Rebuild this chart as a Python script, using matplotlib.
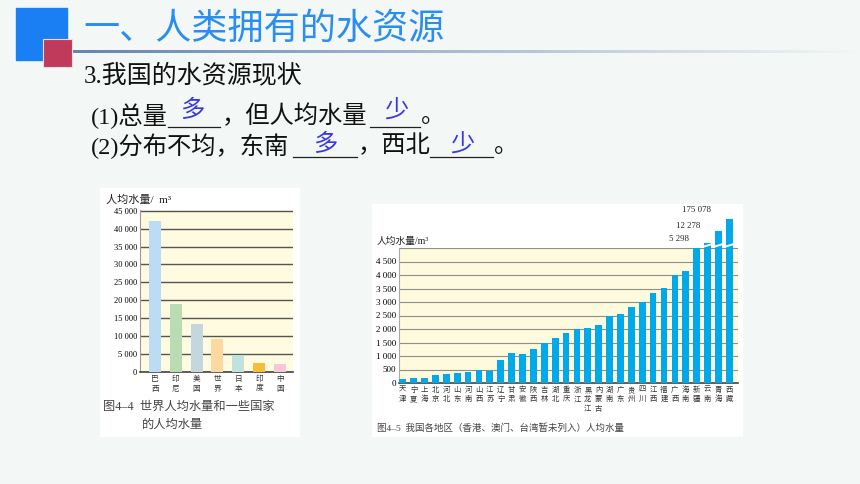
import numpy as np
import matplotlib
matplotlib.use('Agg')
import matplotlib.pyplot as plt
from matplotlib.patches import Rectangle

# ---- data ----
world_names = ['巴西', '印尼', '美国', '世界', '日本', '印度', '中国']
world_values = [42200, 18900, 13400, 9250, 4650, 2520, 2340]
world_colors = ['#bcdcf4', '#b9dcb2', '#c6d6df', '#fdd9a2', '#bfe2da', '#f6bd3c', '#f9c7d9']
world_ticks = [0, 5000, 10000, 15000, 20000, 25000, 30000, 35000, 40000, 45000]

prov_names = ['天津', '宁夏', '上海', '北京', '河北', '山东', '河南', '山西', '江苏', '辽宁',
              '甘肃', '安徽', '陕西', '吉林', '湖北', '重庆', '浙江', '黑龙江', '内蒙古', '湖南',
              '广东', '贵州', '四川', '江西', '福建', '广西', '海南', '新疆', '云南', '青海', '西藏']
prov_values = [150, 200, 200, 300, 350, 380, 420, 470, 450, 860,
               1100, 1080, 1250, 1480, 1650, 1850, 2000, 2050, 2160, 2500,
               2550, 2800, 3000, 3350, 3520, 4000, 4150, 5000, 5298, 12278, 175078]
prov_ticks = [0, 500, 1000, 1500, 2000, 2500, 3000, 3500, 4000, 4500]

W, H = 860, 484
SERIF = ['Liberation Serif', 'Noto Sans CJK SC']
CJK = ['Noto Sans CJK SC', 'DejaVu Sans']

def box(x0, y0, x1, y1):
    return [x0 / W, 1 - y1 / H, (x1 - x0) / W, (y1 - y0) / H]

def spaced(v):
    return f'{v:,}'.replace(',', ' ')

fig = plt.figure(figsize=(8.6, 4.84), dpi=100)
fig.patch.set_facecolor('#f3f7f5')

bg = fig.add_axes([0, 0, 1, 1])
bg.axis('off')

# header decoration
bg.add_patch(Rectangle((16, 8), 51, 52, color='#1a7ff2', zorder=2))
bg.add_patch(Rectangle((43, 39), 29, 28, facecolor='#c03a5c', edgecolor='#e0e0e0', lw=0.8, zorder=3))
grad = np.linspace(0, 1, 300)[None, :]
bg.imshow(grad, extent=(72, 860, 53.5, 51), aspect='auto', zorder=2,
          cmap=matplotlib.colors.LinearSegmentedColormap.from_list('g', ['#6485b4', '#f3f7f5']))
bg.set_xlim(0, W)
bg.set_ylim(H, 0)

bg.text(83, 29, '一、人类拥有的水资源', fontsize=26, color='#2a8ef0', family=CJK, va='center')
bg.text(84, 75, '3.我国的水资源现状', fontsize=18, color='#111111', family=SERIF, va='center')

body = dict(fontsize=17.5, color='#111111', family=SERIF, va='center')
ans = dict(fontsize=17.5, color='#3a36e0', family=CJK, va='center', ha='center')
bg.text(91, 116, '(1)总量', **body)
bg.text(222, 116, '，但人均水量', **body)
bg.text(421, 116, '。', **body)
bg.text(192, 110, '多', **ans)
bg.text(396, 110, '少', **ans)
bg.text(91, 146, '(2)分布不均，东南', **body)
bg.text(358, 146, '，西北', **body)
bg.text(494, 146, '。', **body)
bg.text(325, 144, '多', **ans)
bg.text(462, 144, '少', **ans)
for x0, x1, y in [(168, 220, 127), (370, 420, 127), (293, 357, 157), (430, 493, 157)]:
    bg.plot([x0, x1], [y, y], color='#222222', lw=0.9)

# white panels
bg.add_patch(Rectangle((100, 188), 199, 248, color='white', zorder=1))
bg.add_patch(Rectangle((372, 204), 370, 232, color='white', zorder=1))

# ---- left chart ----
ax1 = fig.add_axes(box(140, 210, 293, 372))
ax1.set_facecolor('#fefbe0')
x1 = np.arange(len(world_names))
ax1.bar(x1, world_values, width=0.58, color=world_colors, zorder=3)
ax1.set_xlim(-0.72, 6.63)
ax1.set_ylim(0, 45200)
ax1.set_yticks(world_ticks)
ax1.set_yticklabels([spaced(v) for v in world_ticks], fontsize=6, family=SERIF)
ax1.set_xticks(x1)
ax1.set_xticklabels(['\n'.join(n) for n in world_names], fontsize=5.5, family=CJK,
                    linespacing=1.3, color='#333333')
ax1.tick_params(length=0, pad=2)
ax1.grid(axis='y', color='#555555', lw=1.0, zorder=1)
for s in ['top', 'right']:
    ax1.spines[s].set_visible(False)
ax1.spines['left'].set_color('#999999')
ax1.spines['bottom'].set_color('#444444')
ax1.spines['bottom'].set_linewidth(1.2)

bg.text(106, 200, '人均水量/  m³', fontsize=8, family=SERIF, va='center', color='#222222')
bg.text(103, 407, '图4–4  世界人均水量和一些国家', fontsize=8.8, family=SERIF, va='center', color='#444444')
bg.text(142, 425, '的人均水量', fontsize=8.8, family=SERIF, va='center', color='#444444')

# ---- right chart ----
ax2 = fig.add_axes(box(399, 248, 738, 383))
ax2.set_facecolor('#fdfadd')
x2 = np.arange(len(prov_names))
vals = np.array(prov_values, dtype=float)
# heights above 5000 are shown on a broken, compressed scale
shown = np.where(vals > 5000, 5000 + 320 * (np.log10(np.clip(vals - 5000, 1, None)) - 1.85), vals)
bars = ax2.bar(x2, shown, width=0.62, color='#00a9ea', zorder=3)
for b in bars:
    b.set_clip_on(False)
tall = np.where(vals > 5000)[0]
for i in tall:
    ax2.plot([i - 0.45, i + 0.45], [5040, 5150], color='white', lw=1.4, zorder=4, clip_on=False)
for k, i in enumerate(tall):
    ax2.text(i - 2.6 - 0.2 * k, 5330 + 470 * k ** 1.2, spaced(prov_values[i]), fontsize=6.3,
             family=SERIF, ha='center', va='center', color='#222222')
ax2.set_xlim(-0.35, 30.8)
ax2.set_ylim(0, 5000)
ax2.set_yticks(prov_ticks + [5000])
ax2.set_yticklabels([spaced(v) for v in prov_ticks] + [''], fontsize=6.5, family=SERIF)
ax2.set_xticks(x2)
ax2.set_xticklabels(['\n'.join(n) for n in prov_names], fontsize=5.3, family=CJK,
                    linespacing=1.25, color='#333333', va='top')
ax2.tick_params(length=0, pad=2)
ax2.grid(axis='y', color='#8f8f86', lw=0.8, zorder=1)
for s in ['top', 'right']:
    ax2.spines[s].set_visible(False)
ax2.spines['left'].set_color('#aaaaaa')
ax2.spines['bottom'].set_color('#444444')
ax2.spines['bottom'].set_linewidth(1.2)

bg.text(377, 241, '人均水量/m³', fontsize=7, family=SERIF, va='center', color='#222222')
bg.text(377, 428, '图4–5  我国各地区（香港、澳门、台湾暂未列入）人均水量', fontsize=6.8,
        family=SERIF, va='center', color='#444444')

fig.savefig('out.png', dpi=100, facecolor=fig.get_facecolor())
